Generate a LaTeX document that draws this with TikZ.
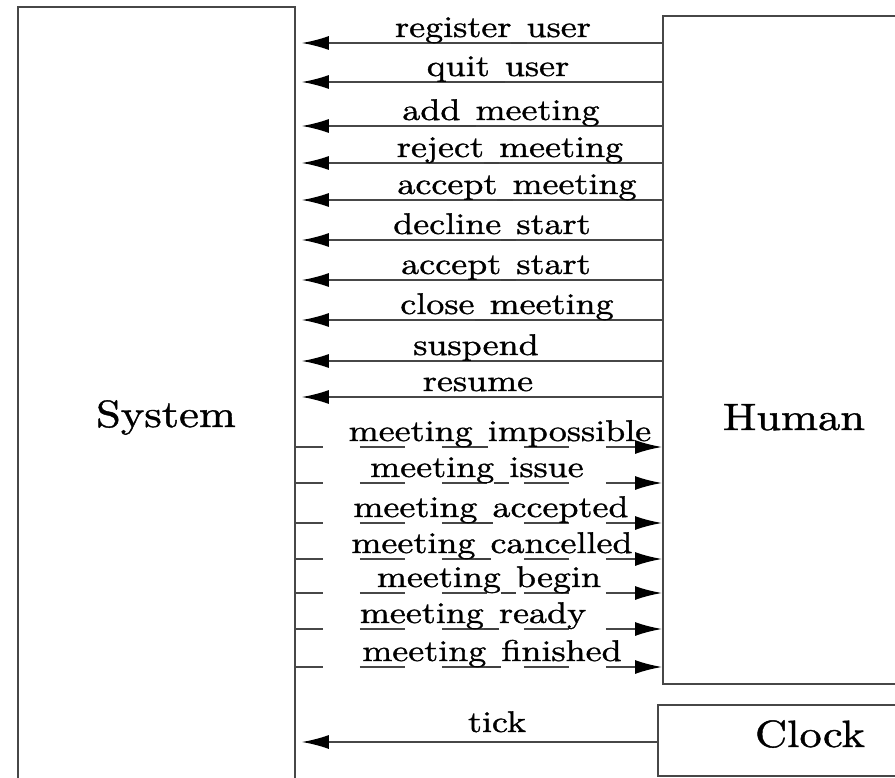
\documentclass[tikz,border=0pt]{standalone}
\usepackage{fontspec}
\setmainfont{lmroman10-regular.otf}[FakeBold=1]
\usetikzlibrary{arrows.meta}
\newcommand\wlab[1]{\scalebox{1.2}[1]{#1}}
\newcommand\wbig[1]{\scalebox{1.17}[1]{#1}}
% underscore drawn as a short rule lying on the connector below the label
\newcommand\us{\textcolor{black!75}{\rule[-6.9pt]{0.42em}{1.8pt}}}
\begin{document}
\begin{tikzpicture}[x=1pt,y=-1pt,
  line/.style={draw=black!72,line width=1.8pt},
  box/.style={line,rectangle,anchor=north west,inner sep=0pt},
  lbl/.style={anchor=base,inner sep=0pt,font=\fontsize{30}{30}\selectfont},
  big/.style={anchor=base,inner sep=0pt,font=\fontsize{38}{38}\selectfont},
  tosys/.style={line,-{Latex[length=27pt,width=14pt,color=black]}},
  tohum/.style={line,dash pattern=on 45pt off 37pt,dash phase=18pt,
    -{Latex[length=27pt,width=14pt,color=black]}}]
\useasboundingbox (0,0) rectangle (895,778);
\clip (0,0) rectangle (895,778);

% the three components
\node[box,minimum width=277pt,minimum height=800pt] (sys) at (17,6) {};
\node[box,minimum width=260pt,minimum height=668pt] (hum) at (662,15) {};
\node[box,minimum width=265pt,minimum height=71pt] (clk) at (657,704) {};
\node[big] (systxt) at (166,427) {\wbig{System}};
\node[big] (humtxt) at (794,430) {\wbig{Human}};
\node[big] (clktxt) at (810,747) {\wbig{Clock}};

\coordinate (tipx) at ([xshift=6pt]sys.east);

% events sent by the human to the system
\foreach \lab/\y/\cx [count=\i] in {
  register\us user/43/493, quit\us user/82/498, add\us meeting/126/501,
  reject\us meeting/163/510, accept\us meeting/200/517, decline\us start/240/492,
  accept\us start/280/496, close\us meeting/320/507, suspend/361/476,
  resume/397/478} {
  \coordinate (in\i) at (0,\y);
  \draw[tosys] (hum.west |- in\i) -- (tipx |- in\i);
  \node[lbl] (inlab\i) at (\cx,\y-6) {\wlab{\lab}};
}

% notifications sent by the system to the human
\foreach \lab/\y/\cx [count=\i] in {
  meeting\us impossible/447/500, meeting\us issue/483/477,
  meeting\us accepted/523/491, meeting\us cancelled/559/492,
  meeting\us begin/593/489, meeting\us ready/629/473,
  meeting\us finished/667/492} {
  \coordinate (out\i) at (0,\y);
  \draw[tohum] (sys.east |- out\i) -- (hum.west |- out\i);
  \node[lbl] (outlab\i) at (\cx,\y-6) {\wlab{\lab}};
}

% clock tick
\coordinate (tk) at (0,742);
\draw[tosys] (clk.west |- tk) -- (tipx |- tk);
\node[lbl] (ticklab) at (497,732) {\wlab{tick}};
\end{tikzpicture}
\end{document}
